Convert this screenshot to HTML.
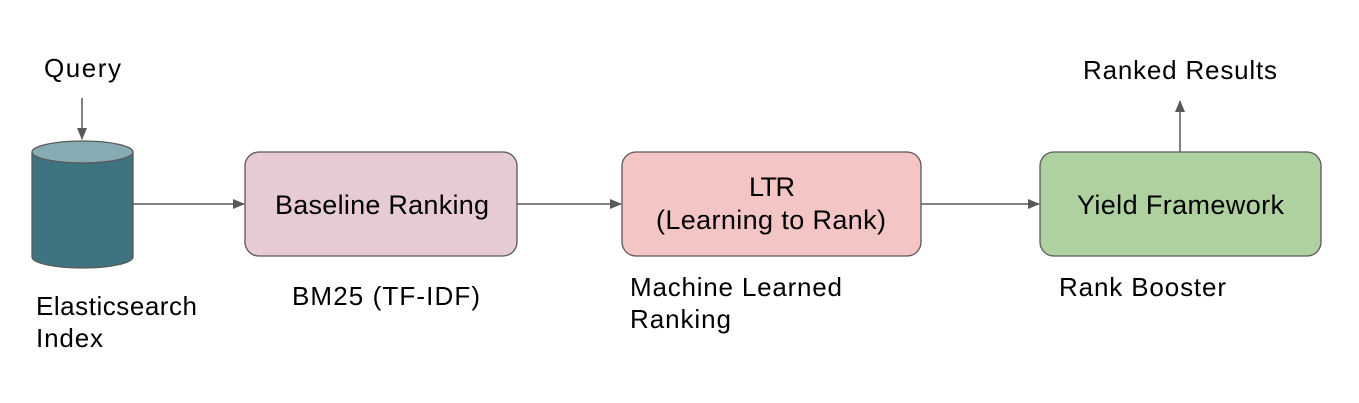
<!DOCTYPE html>
<html><head><style>body{margin:0;background:#fff}svg{display:block}text{font-family:"Liberation Sans",sans-serif;fill:#000}</style></head><body>
<svg width="1359" height="403" xmlns="http://www.w3.org/2000/svg">
<defs><marker id="a" markerWidth="12" markerHeight="10" refX="11" refY="5" orient="auto" markerUnits="userSpaceOnUse"><path d="M0,0 L12,5 L0,10z" fill="#595959"/></marker></defs>
<g stroke="#595959" stroke-width="1.5" fill="none">
<line x1="82" y1="98" x2="82" y2="139" marker-end="url(#a)"/>
<line x1="133" y1="204" x2="244" y2="204" marker-end="url(#a)"/>
<line x1="517" y1="204" x2="621" y2="204" marker-end="url(#a)"/>
<line x1="921" y1="204" x2="1039" y2="204" marker-end="url(#a)"/>
<line x1="1180" y1="152" x2="1180" y2="101" marker-end="url(#a)"/>
</g>
<path d="M32,152 L32,257 A50.5,11 0 0 0 133,257 L133,152" fill="#3e7380" stroke="#595959" stroke-width="1.3"/>
<ellipse cx="82.5" cy="152" rx="50.5" ry="11" fill="#87abb3" stroke="#595959" stroke-width="1.3"/>
<rect x="245" y="152" width="272" height="104" rx="14" fill="#e6cad6" stroke="#595959" stroke-width="1.3"/>
<rect x="622" y="152" width="299" height="104" rx="14" fill="#f3c5c5" stroke="#595959" stroke-width="1.3"/>
<rect x="1040" y="152" width="281" height="104" rx="14" fill="#afd19f" stroke="#595959" stroke-width="1.3"/>
<g font-size="26" lengthAdjust="spacingAndGlyphs">
<text x="44" y="77" textLength="77">Query</text>
<text x="1083" y="79" textLength="194">Ranked Results</text>
<text x="36" y="315" textLength="161">Elasticsearch</text>
<text x="36" y="347" textLength="67">Index</text>
<text x="292" y="305" textLength="188">BM25 (TF-IDF)</text>
<text x="630" y="296" textLength="212">Machine Learned</text>
<text x="630" y="328" textLength="101">Ranking</text>
<text x="1059" y="296" textLength="167">Rank Booster</text>
</g>
<g font-size="27" lengthAdjust="spacingAndGlyphs">
<text x="275" y="214" textLength="214">Baseline Ranking</text>
<text x="749" y="196" textLength="46">LTR</text>
<text x="656" y="229" textLength="230">(Learning to Rank)</text>
<text x="1077" y="214" textLength="207">Yield Framework</text>
</g>
</svg>
</body></html>
